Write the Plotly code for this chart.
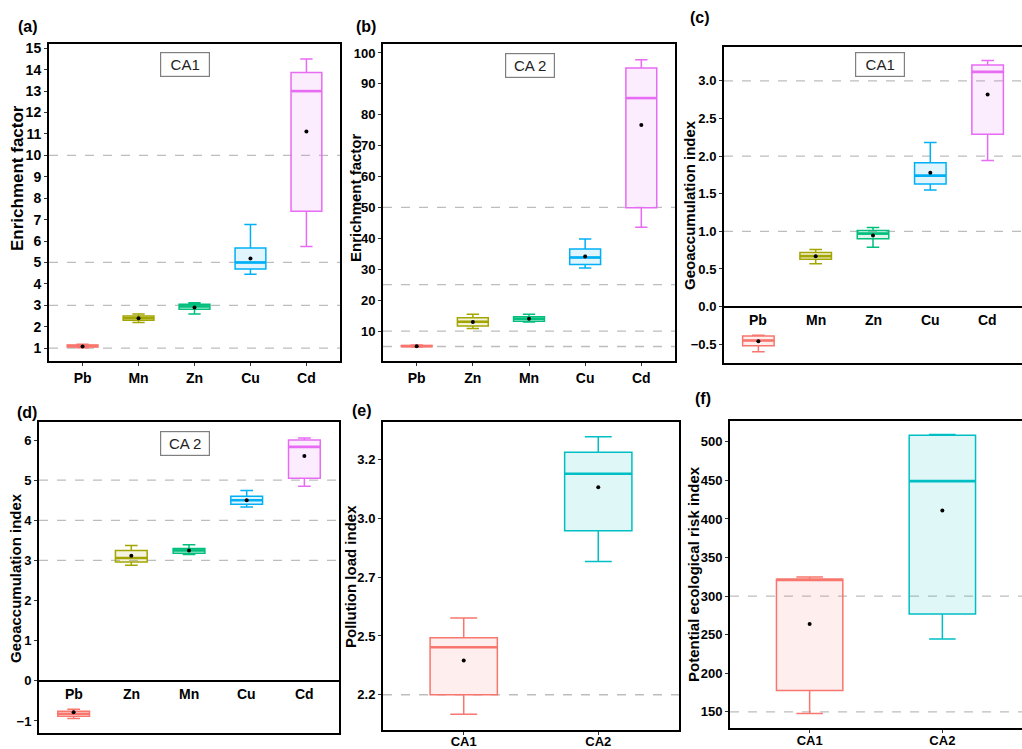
import plotly.graph_objects as go

# ---------------- data ----------------
a_cats = ["Pb", "Mn", "Zn", "Cu", "Cd"]
a_low = [1.02, 2.20, 2.60, 4.45, 5.75]
a_q1 = [1.05, 2.30, 2.82, 4.69, 7.39]
a_med = [1.10, 2.40, 2.95, 5.00, 13.00]
a_q3 = [1.15, 2.50, 3.05, 5.68, 13.87]
a_high = [1.18, 2.60, 3.12, 6.77, 14.50]
a_mean = [1.08, 2.40, 2.90, 5.19, 11.12]
a_ref = [1, 3, 5, 10]

b_cats = ["Pb", "Zn", "Mn", "Cu", "Cd"]
b_low = [4.8, 10.85, 12.9, 30.4, 43.6]
b_q1 = [5.0, 11.6, 13.2, 31.5, 49.9]
b_med = [5.1, 13.0, 14.0, 33.8, 85.4]
b_q3 = [5.3, 14.3, 14.6, 36.55, 95.1]
b_high = [5.5, 15.4, 15.4, 39.8, 97.8]
b_mean = [5.1, 12.9, 14.0, 34.1, 76.7]
b_ref = [5, 10, 25, 50]

c_cats = ["Pb", "Mn", "Zn", "Cu", "Cd"]
c_low = [-0.60, 0.57, 0.79, 1.55, 1.94]
c_q1 = [-0.52, 0.63, 0.90, 1.63, 2.29]
c_med = [-0.45, 0.67, 0.97, 1.74, 3.12]
c_q3 = [-0.39, 0.72, 1.01, 1.91, 3.21]
c_high = [-0.38, 0.76, 1.05, 2.18, 3.27]
c_mean = [-0.46, 0.67, 0.945, 1.78, 2.82]
c_ref = [1, 2, 3]

d_cats = ["Pb", "Zn", "Mn", "Cu", "Cd"]
d_low = [-0.94, 2.88, 3.15, 4.33, 4.85]
d_q1 = [-0.88, 2.96, 3.18, 4.40, 5.05]
d_med = [-0.82, 3.06, 3.25, 4.50, 5.83]
d_q3 = [-0.76, 3.25, 3.30, 4.60, 6.00]
d_high = [-0.71, 3.37, 3.39, 4.74, 6.05]
d_mean = [-0.78, 3.12, 3.25, 4.50, 5.60]
d_ref = [3, 4, 5]

e_cats = ["CA1", "CA2"]
e_low = [2.117, 2.767]
e_q1 = [2.200, 2.897]
e_med = [2.402, 3.140]
e_q3 = [2.442, 3.231]
e_high = [2.526, 3.297]
e_mean = [2.346, 3.083]
e_ref = [2.2]
e_tickvals = [2.2, 2.45, 2.7, 2.95, 3.2]
e_ticktext = ["2.2", "2.5", "2.7", "3.0", "3.2"]

f_cats = ["CA1", "CA2"]
f_low = [147.8, 244.4]
f_q1 = [177.6, 276.7]
f_med = [321.0, 449.0]
f_q3 = [322.0, 508.6]
f_high = [324.6, 509.5]
f_mean = [263.8, 411.0]
f_ref = [150, 300]

hue5 = ["#F8766D", "#A3A500", "#00BF7D", "#00B0F6", "#E76BF3"]
hue2 = ["#F8766D", "#00BFC4"]

# ---------------- layout helpers ----------------
W, H = 1022, 749
FONT = "Liberation Sans, Arial, sans-serif"


def rgba(hex_col, a):
    h = hex_col.lstrip("#")
    r, g, b = int(h[0:2], 16), int(h[2:4], 16), int(h[4:6], 16)
    return f"rgba({r},{g},{b},{a})"


panels = [
    dict(tag="(a)", cats=a_cats, low=a_low, q1=a_q1, med=a_med, q3=a_q3, high=a_high, mean=a_mean,
         ref=a_ref, yr=[0.4, 15.2], tv=list(range(1, 16)), tt=None, fmt=None,
         title="Enrichment factor", frame=(49, 44, 340, 361), colors=hue5, bw=0.55,
         label_at_zero=False, right=True, tpos=(18, 178), tsize=17, tag_pos=(28, 27),
         box="CA1", box_pos=(185, 64), xstand=0, xfs=14),
    dict(tag="(b)", cats=b_cats, low=b_low, q1=b_q1, med=b_med, q3=b_q3, high=b_high, mean=b_mean,
         ref=b_ref, yr=[0.3, 102.9], tv=list(range(10, 101, 10)), tt=None, fmt=None,
         title="Enrichment factor", frame=(383, 44, 675, 361), colors=hue5, bw=0.55,
         label_at_zero=False, right=True, tpos=(355, 198), tsize=15, tag_pos=(366, 27),
         box="CA 2", box_pos=(530, 66), xstand=0, xfs=14),
    dict(tag="(c)", cats=c_cats, low=c_low, q1=c_q1, med=c_med, q3=c_q3, high=c_high, mean=c_mean,
         ref=c_ref, yr=[-0.75, 3.45], tv=[-0.5, 0, 0.5, 1, 1.5, 2, 2.5, 3], tt=None, fmt=".1f",
         title="Geoaccumulation index", frame=(724, 47, 1022, 363), colors=hue5, bw=0.55,
         label_at_zero=True, right=False, tpos=(690, 205), tsize=15, tag_pos=(700, 18),
         box="CA1", box_pos=(880, 64), xstand=0, xfs=14),
    dict(tag="(d)", cats=d_cats, low=d_low, q1=d_q1, med=d_med, q3=d_q3, high=d_high, mean=d_mean,
         ref=d_ref, yr=[-1.3, 6.45], tv=list(range(-1, 7)), tt=None, fmt=None,
         title="Geoaccumulation index", frame=(39, 422, 339, 733), colors=hue5, bw=0.55,
         label_at_zero=True, right=True, tpos=(15, 578), tsize=15, tag_pos=(27, 412),
         box="CA 2", box_pos=(185, 443), xstand=0, xfs=14),
    dict(tag="(e)", cats=e_cats, low=e_low, q1=e_q1, med=e_med, q3=e_q3, high=e_high, mean=e_mean,
         ref=e_ref, yr=[2.05, 3.36], tv=e_tickvals, tt=e_ticktext, fmt=None,
         title="Pollution load index", frame=(383, 422, 679, 730), colors=hue2, bw=0.5,
         label_at_zero=False, right=True, tpos=(350, 577), tsize=15, tag_pos=(362, 410),
         box=None, box_pos=None, xstand=-5, xfs=13),
    dict(tag="(f)", cats=f_cats, low=f_low, q1=f_q1, med=f_med, q3=f_q3, high=f_high, mean=f_mean,
         ref=f_ref, yr=[129, 527], tv=list(range(150, 501, 50)), tt=None, fmt=None,
         title="Potential ecological risk index", frame=(730, 421, 1022, 728), colors=hue2, bw=0.5,
         label_at_zero=False, right=False, tpos=(693, 574), tsize=15, tag_pos=(703, 399),
         box=None, box_pos=None, xstand=-4, xfs=13),
]

fig = go.Figure()
layout = dict(width=W, height=H, margin=dict(l=0, r=0, t=0, b=0, autoexpand=False),
              paper_bgcolor="white", plot_bgcolor="white", showlegend=False,
              shapes=[], annotations=[])

for k, p in enumerate(panels):
    s = "" if k == 0 else str(k + 1)
    xa, ya = "x" + s, "y" + s
    n = len(p["cats"])
    x0, y0, x1, y1 = p["frame"]
    idx = list(range(n))

    for i in idx:
        col = p["colors"][i]
        fig.add_trace(go.Box(
            x=[i], q1=[p["q1"][i]], median=[p["med"][i]], q3=[p["q3"][i]],
            lowerfence=[p["low"][i]], upperfence=[p["high"][i]],
            width=p["bw"], whiskerwidth=0.4, boxpoints=False,
            line=dict(color=col, width=1.5), fillcolor=rgba(col, 0.12),
            xaxis=xa, yaxis=ya, hoverinfo="skip"))
        hw = p["bw"] / 2
        fig.add_trace(go.Scatter(
            x=[i - hw, i + hw], y=[p["med"][i], p["med"][i]], mode="lines",
            line=dict(color=col, width=2.6), xaxis=xa, yaxis=ya, hoverinfo="skip"))
    fig.add_trace(go.Scatter(
        x=idx, y=p["mean"], mode="markers", marker=dict(color="black", size=4),
        xaxis=xa, yaxis=ya, hoverinfo="skip"))

    xaxis = dict(domain=[x0 / W, x1 / W], range=[-0.6, n - 0.4], anchor=ya,
                 tickvals=idx, ticktext=p["cats"], showgrid=False, zeroline=False,
                 automargin=False, ticklabelstandoff=p["xstand"],
                 showline=True, linecolor="black", linewidth=2, mirror=True,
                 ticks="outside", ticklen=3, tickcolor="#333",
                 tickfont=dict(family=FONT, size=p["xfs"], color="black", weight=700))
    if p["label_at_zero"]:
        xaxis.update(showticklabels=False, ticks="")
        for i in idx:
            layout["annotations"].append(dict(
                x=i, y=0, xref=xa, yref=ya, text=p["cats"][i], showarrow=False,
                yanchor="top", yshift=-3,
                font=dict(family=FONT, size=14, color="black", weight=700)))
    yaxis = dict(domain=[1 - y1 / H, 1 - y0 / H], range=p["yr"], anchor=xa,
                 tickvals=p["tv"], showgrid=False, automargin=False,
                 zeroline=p["label_at_zero"], zerolinecolor="black", zerolinewidth=2,
                 showline=True, linecolor="black", linewidth=2, mirror=p["right"],
                 ticks="outside", ticklen=3, tickcolor="#333",
                 tickfont=dict(family=FONT, size=14 if k == 0 else 13, color="black", weight=700))
    if p["tt"] is not None:
        yaxis["ticktext"] = p["tt"]
    if p["fmt"] is not None:
        yaxis["tickformat"] = p["fmt"]
    layout["xaxis" + s] = xaxis
    layout["yaxis" + s] = yaxis

    for v in p["ref"]:
        layout["shapes"].append(dict(type="line", xref=xa + " domain", yref=ya,
                                     x0=0, x1=1, y0=v, y1=v, layer="below",
                                     line=dict(color="#bdbdbd", width=1.3, dash="dash")))

    tx, ty = p["tpos"]
    layout["annotations"].append(dict(
        x=tx / W, y=1 - ty / H, xref="paper", yref="paper", text=p["title"],
        textangle=-90, showarrow=False, xanchor="center", yanchor="middle",
        font=dict(family=FONT, size=p["tsize"], color="black", weight=700)))
    gx, gy = p["tag_pos"]
    layout["annotations"].append(dict(
        x=gx / W, y=1 - gy / H, xref="paper", yref="paper", text=p["tag"],
        showarrow=False, xanchor="center", yanchor="middle",
        font=dict(family=FONT, size=16, color="black", weight=700)))
    if p["box"]:
        bx, by = p["box_pos"]
        layout["annotations"].append(dict(
            x=bx / W, y=1 - by / H, xref="paper", yref="paper", text=p["box"],
            showarrow=False, xanchor="center", yanchor="middle",
            width=44, height=19, borderpad=2, bordercolor="#7f7f7f", borderwidth=1.2,
            bgcolor="white", font=dict(family=FONT, size=15, color="#222")))

fig.update_layout(**layout)
fig.write_html(
    "out.html",
    config={"displayModeBar": False},
    post_script="document.documentElement.style.margin='0';"
                "document.body.style.margin='0';document.body.style.overflow='hidden';",
)
